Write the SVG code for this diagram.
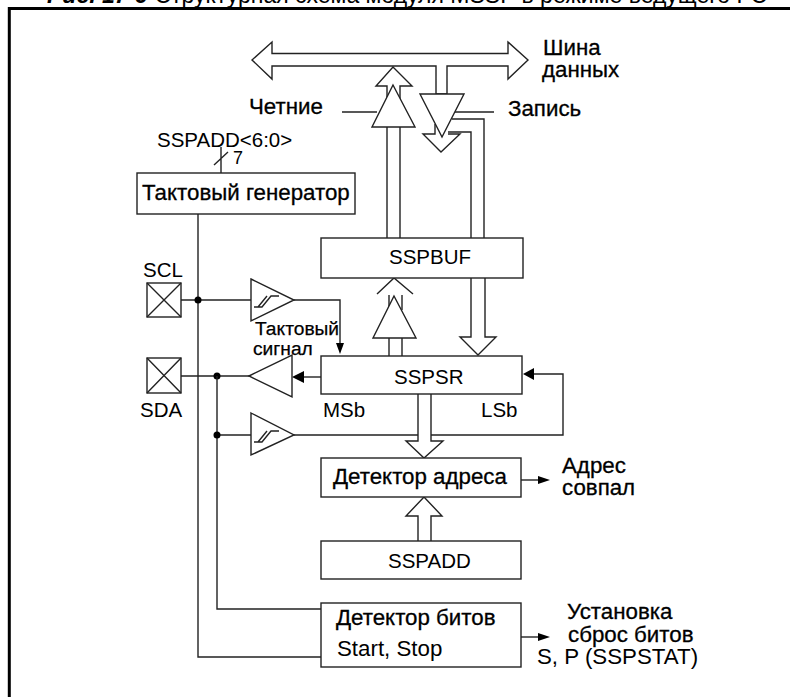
<svg xmlns="http://www.w3.org/2000/svg" width="790" height="697" viewBox="0 0 790 697">
<style>
text{font-family:"Liberation Sans",Arial,sans-serif;font-size:20.500px;fill:#000}
.c{font-size:22.300px;stroke:#000;stroke-width:.3px}
.l{font-size:22.300px}
.s{font-size:19.200px;stroke:#000;stroke-width:.25px}
.box{fill:#fff;stroke:#222;stroke-width:1.4}
.w{fill:none;stroke:#222;stroke-width:1.4}
.t{fill:#fff;stroke:#222;stroke-width:1.4;stroke-linejoin:miter}
.f{fill:#000;stroke:none}
</style>
<rect width="790" height="697" fill="#fff"/>
<g id="frame"><path d="M790 8.500H9.300V697" fill="none" stroke="#000" stroke-width="3"/></g>
<text id="title" x="47" y="3" style="font-size:23px"><tspan font-weight="bold" font-style="italic">Рис. 17-9</tspan> Структурная схема модуля MSSP в режиме ведущего I²C</text>
<g id="connectors">
<path class="w" d="M198 214V657H321"/>
<path class="w" d="M181 300H251"/><circle class="f" cx="198" cy="300" r="3.500"/>
<path class="w" d="M294 300H340V344"/><path class="f" d="M336 343H344L340 354Z"/>
<path class="w" d="M181 376H249"/><circle class="f" cx="217" cy="376" r="3.500"/>
<path class="w" d="M217 376V609H321"/>
<path class="w" d="M217 435H251"/><circle class="f" cx="217" cy="435" r="3.500"/>
<path class="w" d="M321 377H300"/><path class="f" d="M304 371V383L292 377Z"/>
<path class="w" d="M294 435H563V374H530"/><path class="f" d="M534 368V380L523 374Z"/>
<path class="w" d="M521 480H540"/><path class="f" d="M538 476V484L550 480Z"/>
<path class="w" d="M521 637H540"/><path class="f" d="M538 633V641L550 637Z"/>
<path class="w" d="M221 147V173M214 165L228 152"/>
<path class="w" d="M342 112H377M452 112H494"/>
<path class="t" d="M252 60L272 42V53.500H508V42L528 60L508 79V66H447V94H436V66H272V79Z"/>
<path class="w" d="M387 238V86H376L393 67L412 86H400V238"/>
<path class="t" d="M393 85L415 127H372Z"/>
<path class="w" d="M435 124V134H423L441 152L460 134H448"/>
<path class="t" d="M420 94H464L442 137Z"/>
<path class="w" d="M448 132H471V238M452 119H484V238"/>
<path class="w" d="M377 294L394 278L413 294M389 295V310M402 295V310"/>
<path class="t" d="M394 296L416 338H373Z"/>
<path class="w" d="M389 338V356M402 338V356"/>
<path class="t" d="M471 278V337H460L478 355L496 337H485V278"/>
<path class="t" d="M418 394V441H406L424 458L443 441H431V394"/>
<path class="t" d="M418 541V516H406L424 497L442 516H431V541"/>
</g>
<g id="gen"><rect class="box" x="137" y="173" width="218" height="41"/><text class="c" x="142" y="200">Тактовый генератор</text></g>
<g id="sspadd-in"><text x="157" y="147">SSPADD&lt;6:0&gt;</text><text x="233" y="164" style="font-size:18px">7</text></g>
<g id="scl"><text x="143" y="277">SCL</text><rect class="box" x="147" y="283" width="34" height="34"/><path class="w" d="M147 283L181 317M181 283L147 317"/></g>
<g id="sda"><rect class="box" x="147" y="358" width="34" height="35"/><path class="w" d="M147 358L181 393M181 358L147 393"/><text x="140" y="417">SDA</text></g>
<g id="buf1"><path class="t" d="M251 279L294 300L251 321Z"/><path class="w" d="M254 307H262L271 296H279M258 307L267 296" stroke-width="1"/></g>
<g id="buf2"><path class="t" d="M249 376L292 355V397Z"/></g>
<g id="buf3"><path class="t" d="M251 413L294 435L251 455Z"/><path class="w" d="M254 442H262L271 431H279M258 442L267 431" stroke-width="1"/></g>
<g id="sspbuf"><rect class="box" x="321" y="238" width="202" height="40"/><text x="389" y="264">SSPBUF</text></g>
<g id="sspsr"><rect class="box" x="321" y="356" width="201" height="38"/><text x="394" y="384">SSPSR</text></g>
<g id="addrdet"><rect class="box" x="321" y="458" width="200" height="39"/><text class="c" x="333" y="484">Детектор адреса</text></g>
<g id="sspadd"><rect class="box" x="321" y="541" width="200" height="38"/><text x="388" y="568">SSPADD</text></g>
<g id="bitdet"><rect class="box" x="321" y="603" width="200" height="64"/><text class="c" x="336" y="625">Детектор битов</text><text class="l" x="337" y="656">Start, Stop</text></g>
<g id="labels">
<text class="c" x="543" y="55">Шина</text><text class="c" x="542" y="77">данных</text>
<text class="c" x="249" y="114">Четние</text><text class="c" x="508" y="116">Запись</text>
<text class="s" x="255" y="335">Тактовый</text><text class="s" x="253" y="355">сигнал</text>
<text x="323" y="417">MSb</text><text x="481" y="417">LSb</text>
<text class="c" x="562" y="473">Адрес</text><text class="c" x="562" y="495">совпал</text>
<text class="c" x="567" y="619">Установка</text><text class="c" x="568" y="642">сброс битов</text><text class="l" x="537" y="664">S, P (SSPSTAT)</text>
</g>
</svg>
